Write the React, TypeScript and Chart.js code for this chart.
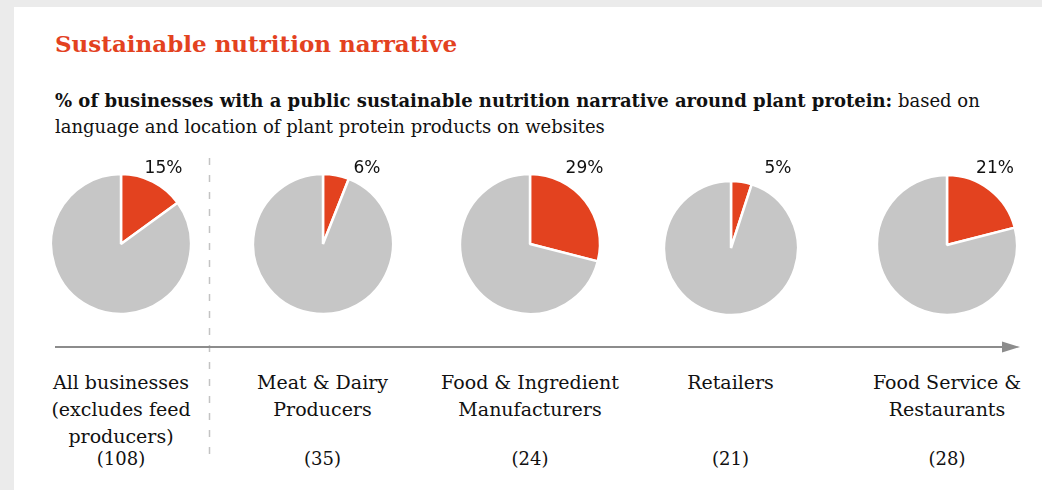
import React, { useEffect, useRef } from "react";
import { Chart, registerables } from "chart.js";

Chart.register(...registerables);

// ---- data ----
const categoryLines: string[][] = [
  ["All businesses", "(excludes feed", "producers)"],
  ["Meat & Dairy", "Producers"],
  ["Food & Ingredient", "Manufacturers"],
  ["Retailers"],
  ["Food Service &", "Restaurants"],
];
const sampleSizes = [108, 35, 24, 21, 28];
const sharePct = [15, 6, 29, 5, 21];
const pctLabels = ["15%", "6%", "29%", "5%", "21%"];

// ---- layout / style ----
const pieCenterX = [121, 322.5, 530, 730.5, 947];
const pieCenterY = [244, 244, 244, 248, 245];
const pieRadius = [70, 70, 70, 67, 70];
const pctLabelX = [163.5, 367, 584.5, 778, 995];

const RED = "#e3421f";
const GREY = "#c6c6c6";
const SERIF = "'DejaVu Serif', serif";
const SANS = "'DejaVu Sans', sans-serif";

function Pie({ idx }: { idx: number }) {
  const ref = useRef<HTMLCanvasElement | null>(null);
  const r = pieRadius[idx];
  const size = Math.ceil(2 * r + 8);
  useEffect(() => {
    if (!ref.current) return;
    const chart = new Chart(ref.current, {
      type: "pie",
      data: {
        labels: ["Yes", "No"],
        datasets: [
          {
            data: [sharePct[idx], 100 - sharePct[idx]],
            backgroundColor: [RED, GREY],
            borderColor: "#ffffff",
            borderWidth: 2.5,
            radius: r,
          } as any,
        ],
      },
      options: {
        responsive: false,
        maintainAspectRatio: false,
        animation: false,
        events: [],
        layout: { padding: 0 },
        plugins: { legend: { display: false }, tooltip: { enabled: false } },
      },
    });
    return () => chart.destroy();
  }, [idx]);
  return (
    <canvas
      ref={ref}
      width={size}
      height={size}
      style={{
        position: "absolute",
        left: pieCenterX[idx] - size / 2,
        top: pieCenterY[idx] - size / 2,
        width: size,
        height: size,
      }}
    />
  );
}

export default function App() {
  useEffect(() => {
    document.body.style.margin = "0";
  }, []);
  return (
    <div
      style={{
        position: "relative",
        width: 1042,
        height: 490,
        background: "#ebebeb",
        overflow: "hidden",
      }}
    >
      <div
        style={{
          position: "absolute",
          left: 14,
          top: 7,
          right: 0,
          bottom: 0,
          background: "#ffffff",
        }}
      />
      <div
        style={{
          position: "absolute",
          left: 55,
          top: 29,
          fontFamily: SERIF,
          fontWeight: "bold",
          fontSize: 23,
          lineHeight: "30px",
          color: RED,
          whiteSpace: "nowrap",
        }}
      >
        Sustainable nutrition narrative
      </div>
      <div
        style={{
          position: "absolute",
          left: 55,
          top: 88,
          width: 985,
          fontFamily: SERIF,
          fontSize: 18,
          lineHeight: "26px",
          color: "#111",
          whiteSpace: "nowrap",
        }}
      >
        <b>% of businesses with a public sustainable nutrition narrative around plant protein:</b>{" "}
        based on
        <br />
        language and location of plant protein products on websites
      </div>

      <svg
        width={1042}
        height={490}
        style={{ position: "absolute", left: 0, top: 0 }}
      >
        <line
          x1={209.5}
          y1={158}
          x2={209.5}
          y2={458}
          stroke="#c3c3c3"
          strokeWidth={1.5}
          strokeDasharray="7 10"
        />
        <line x1={55} y1={347} x2={1004} y2={347} stroke="#8c8c8c" strokeWidth={2} />
        <polygon points="1002,341.5 1020,347 1002,352.5" fill="#8c8c8c" />
      </svg>

      {sharePct.map((_, i) => (
        <Pie key={"p" + i} idx={i} />
      ))}

      {pctLabels.map((t, i) => (
        <div
          key={"l" + i}
          style={{
            position: "absolute",
            left: pctLabelX[i] - 40,
            width: 80,
            top: 155,
            textAlign: "center",
            fontFamily: SANS,
            fontSize: 17,
            lineHeight: "24px",
            color: "#111",
          }}
        >
          {t}
        </div>
      ))}

      {categoryLines.map((lines, i) => (
        <div
          key={"c" + i}
          style={{
            position: "absolute",
            left: pieCenterX[i] - 110,
            width: 220,
            top: 369,
            textAlign: "center",
            fontFamily: SERIF,
            fontSize: 19,
            lineHeight: "27px",
            color: "#111",
            whiteSpace: "nowrap",
          }}
        >
          {lines.map((l, j) => (
            <div key={j}>{l}</div>
          ))}
        </div>
      ))}

      {sampleSizes.map((n, i) => (
        <div
          key={"n" + i}
          style={{
            position: "absolute",
            left: pieCenterX[i] - 50,
            width: 100,
            top: 447,
            textAlign: "center",
            fontFamily: SERIF,
            fontSize: 18,
            lineHeight: "24px",
            color: "#111",
          }}
        >
          ({n})
        </div>
      ))}
    </div>
  );
}
